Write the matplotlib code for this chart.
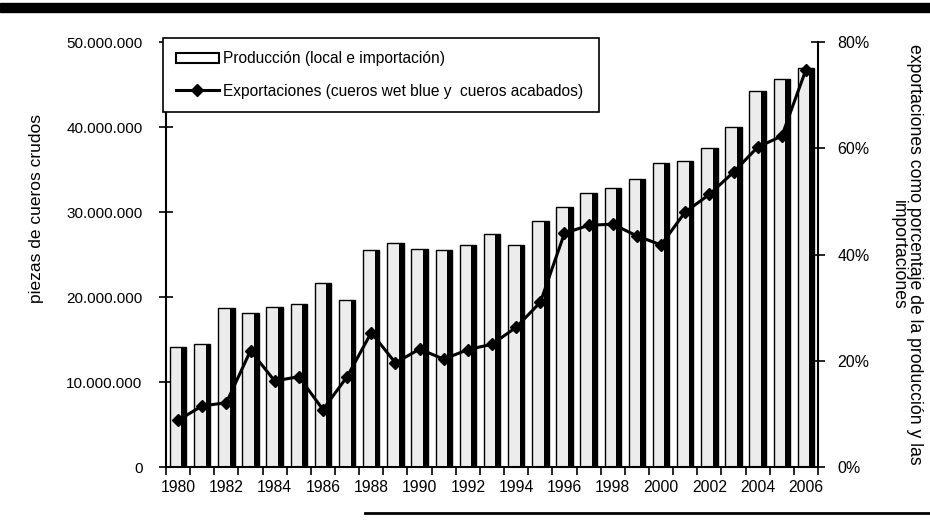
import matplotlib
matplotlib.use("Agg")
import matplotlib.pyplot as plt
from matplotlib.ticker import FuncFormatter, MultipleLocator, FixedLocator
from matplotlib.patches import Rectangle
from matplotlib.lines import Line2D
import numpy as np

plt.rcParams['font.family'] = ['Liberation Sans', 'DejaVu Sans']

# --- datos ---
years = list(range(1980, 2007))
produccion = [14.1e6, 14.5e6, 18.7e6, 18.1e6, 18.8e6, 19.2e6, 21.7e6, 19.7e6,
              25.5e6, 26.4e6, 25.7e6, 25.5e6, 26.1e6, 27.4e6, 26.1e6, 29.0e6,
              30.6e6, 32.2e6, 32.8e6, 33.9e6, 35.8e6, 36.0e6, 37.5e6, 40.0e6,
              44.2e6, 45.6e6, 47.0e6]
exportaciones = [8.8, 11.5, 12.1, 21.9, 16.2, 17.0, 10.8, 17.0, 25.3, 19.6,
                 22.2, 20.3, 22.1, 23.1, 26.3, 31.0, 44.0, 45.5, 45.7, 43.5,
                 41.8, 48.0, 51.3, 55.5, 60.2, 62.3, 74.8]
year_labels = [str(y) for y in years[::2]]

label_bar = "Producción (local e importación)"
label_line = "Exportaciones (cueros wet blue y  cueros acabados)"
ylabel_left = "piezas de cueros crudos"
ylabel_right = "exportaciones como porcentaje de la producción y las\nimportaciones"

fig = plt.figure(figsize=(9.3, 5.29), dpi=100)
ax = fig.add_axes([0.1785, 0.1172, 0.7011, 0.8034])
x = np.arange(len(years))

# barras: cuerpo claro + franja negra a la derecha (imita el patron de Excel)
bw = 0.68
bars = ax.bar(x, produccion, width=bw, color='#ececec', edgecolor='black',
              linewidth=1.0, zorder=2)
ax.bar(x + bw / 2 - 0.1, produccion, width=0.2, color='black', linewidth=0, zorder=3)

ax.set_xlim(-0.5, len(years) - 0.5)
ax.set_ylim(0, 50e6)
ax.yaxis.set_major_locator(MultipleLocator(10e6))
ax.yaxis.set_major_formatter(FuncFormatter(lambda v, p: f"{v:,.0f}".replace(",", ".")))
ax.xaxis.set_major_locator(FixedLocator(x[::2]))
ax.set_xticklabels(year_labels)
ax.xaxis.set_minor_locator(FixedLocator(np.arange(-0.5, len(years), 1.0)))
ax.tick_params(axis='x', which='major', length=0, labelsize=11.3, pad=9)
ax.tick_params(axis='x', which='minor', length=6, width=1.2, direction='out')
ax.tick_params(axis='y', length=10, width=1.2, direction='inout', labelsize=11, pad=12)
ax.set_ylabel(ylabel_left, fontsize=12.5)
ax.yaxis.set_label_coords(-0.187, 0.608)
for s in ['top', 'right']:
    ax.spines[s].set_visible(False)
for s in ['left', 'bottom']:
    ax.spines[s].set_linewidth(1.5)

ax2 = ax.twinx()
line, = ax2.plot(x, np.array(exportaciones) / 100, color='black', lw=2.2,
                 marker='D', markersize=6, zorder=5)
ax2.set_ylim(0, 0.8)
ax2.yaxis.set_major_locator(MultipleLocator(0.2))
ax2.yaxis.set_major_formatter(FuncFormatter(lambda v, p: f"{v * 100:.0f}%"))
ax2.tick_params(axis='y', length=10, width=1.2, direction='inout', labelsize=11.5, pad=9)
for s in ['top', 'left', 'bottom']:
    ax2.spines[s].set_visible(False)
ax2.spines['right'].set_linewidth(1.5)
ax2.set_ylabel(ylabel_right, fontsize=12.7, rotation=-90, labelpad=38,
               linespacing=0.9)

leg_bar = Rectangle((0, 0), 1, 1, facecolor='white', edgecolor='black', linewidth=1.5)
leg = ax2.legend([leg_bar, line], [label_bar, label_line], loc='upper left',
                 bbox_to_anchor=(-0.005, 1.009, 0.669, 0.0), mode='expand',
                 borderaxespad=0, fontsize=11.2, frameon=True, fancybox=False,
                 edgecolor='black', framealpha=1, handlelength=2.75,
                 handletextpad=0.26, labelspacing=1.12, borderpad=0.85)
leg.get_frame().set_linewidth(1.2)

# lineas decorativas del documento
fig.add_artist(Rectangle((0, 1 - 12 / 529), 1, 9 / 529, transform=fig.transFigure,
                         color='black', zorder=10))
fig.add_artist(Line2D([365 / 930, 1], [1 - 513 / 529] * 2, transform=fig.transFigure,
                      color='black', lw=2))

fig.savefig("out.png", dpi=100)
